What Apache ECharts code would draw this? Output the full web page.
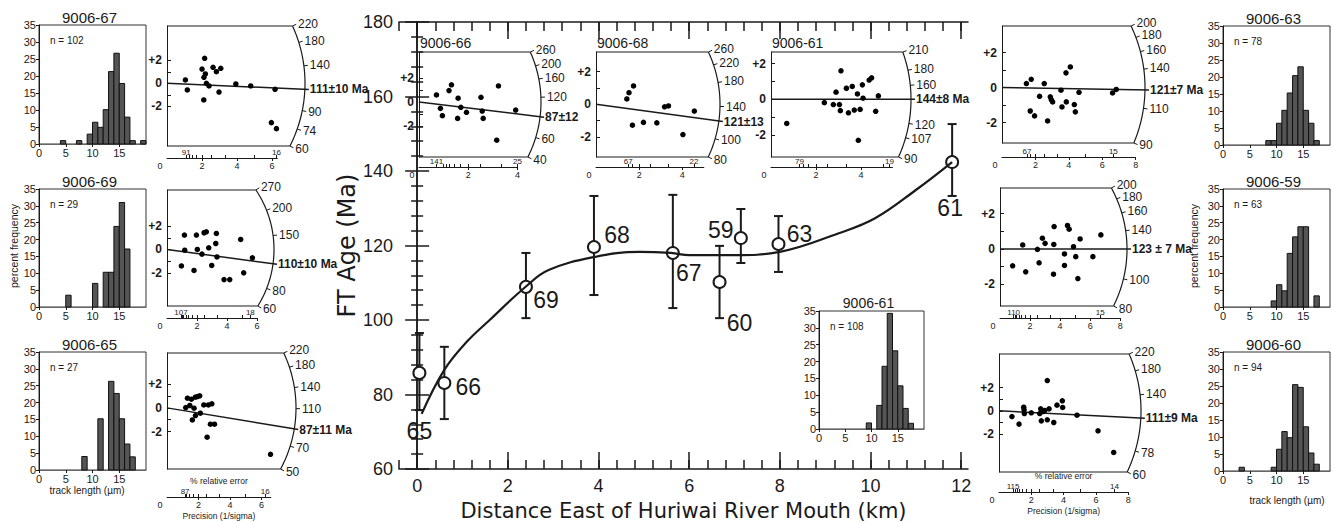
<!DOCTYPE html>
<html>
<head>
<meta charset="utf-8">
<title>FT ages east of Huriwai River mouth</title>
<script src="https://cdn.jsdelivr.net/npm/echarts@6/dist/echarts.min.js"></script>
<style>
  html, body { margin: 0; padding: 0; background: #fff; }
  #chart { width: 1332px; height: 523px; }
</style>
</head>
<body>
<div id="chart"></div>
<script>
// ---- main plot: FT age vs distance ----
const sampleIds = ['65', '66', '69', '68', '67', '60', '59', '63', '61'];
const distKm   = [0.05, 0.6, 2.4, 3.9, 5.64, 6.67, 7.14, 7.97, 11.8];
const ftAge    = [85.8, 83.1, 108.9, 119.6, 118, 110.2, 122, 120.4, 142.4];
const ageLow   = [75.8, 73.4, 100.5, 106.7, 103.2, 100.5, 115.3, 112.9, 133.3];
const ageHigh  = [96.5, 92.8, 118, 133.3, 133.6, 119.9, 129.8, 127.9, 152.6];
const trendKm  = [0.1, 0.6, 1.1, 1.6, 2.4, 2.9, 3.9, 4.9, 5.6, 6.0, 7.0, 8.0, 9.3, 10.1, 11.0, 11.8];
const trendAge = [74.8, 86.6, 94.2, 100, 109, 113.4, 116.9, 118.3, 118, 117.4, 117.4, 118.3, 123.3, 127.3, 134.9, 142.4];
const kmLabels = [0, 2, 4, 6, 8, 10, 12];

// ---- track length histograms: bin start (um) and percent ----
const h67Bins = [4, 7, 9, 10, 11, 12, 13, 14, 15, 16, 17, 19];
const h67Pct  = [1, 1, 2.9, 6.4, 4.9, 10.1, 21.3, 26.7, 17.8, 7.9, 1, 1];
const h69Bins = [5, 10, 12, 13, 14, 15, 16];
const h69Pct  = [3.5, 7, 10.3, 10.3, 23.9, 31, 17.2];
const h65Bins = [8, 11, 13, 14, 15, 16, 17];
const h65Pct  = [4, 15.2, 26.3, 22.7, 15.2, 7.7, 3.9];
const h63Bins = [8, 9, 10, 11, 12, 13, 14, 15, 16, 17];
const h63Pct  = [1.3, 1.3, 6.4, 10.2, 15.3, 20.4, 23, 10.2, 6.4, 1.3];
const h59Bins = [9, 10, 11, 12, 13, 14, 15, 17];
const h59Pct  = [1.8, 6.6, 4.8, 15.9, 20.8, 23.8, 23.8, 3.3];
const h60Bins = [3, 9, 10, 11, 12, 13, 14, 15, 16, 17];
const h60Pct  = [1.1, 1.1, 6.4, 11.6, 9.8, 25.4, 24.6, 13, 5.3, 2];
const h61Bins = [9, 11, 12, 13, 14, 15, 16, 17];
const h61Pct  = [1.8, 7, 18.6, 34.3, 23.2, 12.8, 6.1, 1.7];

// ---- radial plots: precision (1/sigma), standardised estimate ----
const r67Prec = [1.05, 1.16, 2.15, 2.0, 2.11, 2.19, 2.25, 2.4, 2.63, 2.82, 3.07, 2.97, 2.1, 3.93, 4.78, 6.17, 5.96, 6.25];
const r67Z    = [0.29, -0.58, 2.17, 1.24, 0.52, 0.81, 0, -0.23, 1.39, 1.01, 1.3, -0.76, -1.45, -0.06, -0.23, -0.52, -3.42, -3.94];
const r67Arc  = [220, 180, 140, 90, 74, 60];
const r69Prec = [1.16, 1.18, 1.96, 2.02, 2.33, 2.47, 2.62, 2.78, 3.29, 3.25, 3.33, 4.91, 5.69, 0.96, 1.8, 2.98, 3.8, 4.18, 5.11];
const r69Z    = [1.23, -0.06, 1.23, 0, -0.4, 1.43, 1.51, 0.14, 1.37, 0.51, -0.64, 0.86, -0.72, -1.41, -1.8, -1.37, -2.58, -2.58, -2.0];
const r69Arc  = [270, 200, 150, 80, 60];
const r65Prec = [1.3, 1.55, 1.8, 1.93, 2.08, 1.19, 1.45, 1.72, 1.81, 1.61, 2.12, 2.34, 2.63, 2.85, 2.76, 3.02, 2.55, 6.58];
const r65Z    = [0.82, 0.73, 0.9, 0.96, 1.02, 0.03, 0.2, -0.03, -0.65, -1.02, -0.45, 0.25, 0.25, 0.34, -1.38, -1.38, -2.48, -3.93];
const r65Arc  = [220, 180, 140, 110, 70, 50];
const r66Prec = [0.71, 0.87, 0.95, 1.22, 1.32, 1.59, 1.7, 1.57, 1.93, 2.52, 2.57, 2.61, 3.23, 3.16, 3.93];
const r66Z    = [0.58, -0.53, -1.14, 0.94, 1.42, 0.31, -0.44, -1.36, -0.86, 0.39, -0.75, -1.36, 1.33, -3.17, -0.67];
const r66Arc  = [260, 200, 160, 120, 60, 40];
const r68Prec = [1.43, 1.53, 1.74, 1.69, 2.2, 2.82, 3.18, 3.36, 4.03, 4.56];
const r68Z    = [0.33, 0.71, 1.12, -1.27, -1.1, -1.13, -0.15, -0.1, -1.84, -0.41];
const r68Arc  = [260, 220, 180, 140, 100, 80];
const r61Prec = [0.7, 2.37, 2.77, 2.89, 3.04, 3.08, 3.11, 3.35, 3.44, 3.61, 3.7, 3.84, 3.96, 3.88, 4.06, 4.09, 4.36, 4.47, 4.65, 4.77];
const r61Z    = [-1.36, -0.19, -0.3, 0.4, -0.3, -0.64, 1.6, 0.62, -0.76, 0.72, -0.61, 0.3, -0.57, -2.31, 0.81, 0.06, 1.08, 1.21, -0.68, 0.19];
const r61Arc  = [210, 180, 160, 120, 107, 90];
const r63Prec = [1.46, 1.75, 1.69, 1.95, 2.25, 2.53, 2.73, 2.89, 2.95, 3.03, 3.53, 3.59, 3.83, 4.09, 3.85, 4.33, 4.39, 4.61, 6.62, 6.84];
const r63Z    = [0.23, 0.47, -1.34, -1.62, -0.5, 0.23, -1.91, -0.53, -0.69, -0.82, -0.15, -1.11, 0.84, 1.18, -0.82, -0.97, -1.39, -0.27, -0.31, -0.11];
const r63Arc  = [200, 180, 160, 140, 110, 90];
const r59Prec = [1.51, 2.49, 2.82, 3.0, 3.6, 3.58, 4.49, 4.6, 4.89, 5.33, 6.71, 4.29, 5.04, 6.18, 0.84, 1.71, 2.6, 3.56, 4.29, 5.18];
const r59Z    = [0.23, -0.02, 0.61, 0.32, 1.27, 0.26, 1.33, 1.12, 0.13, 0.57, 0.8, -0.28, -0.43, -0.43, -0.95, -1.29, -0.78, -1.42, -0.93, -1.67];
const r59Arc  = [200, 180, 160, 140, 100, 80];
const r60Prec = [0.8, 1.24, 1.53, 1.55, 1.57, 2.0, 2.52, 2.58, 2.62, 2.73, 2.83, 2.99, 2.99, 3.1, 3.39, 3.59, 3.92, 3.94, 4.83, 6.13, 7.1];
const r60Z    = [-0.49, -1.14, 0.31, 0.09, -0.23, -0.17, -0.23, 0.17, -0.86, -0.06, 0.03, 2.6, -0.77, 0.17, -1.0, 0.49, 0.86, 0.29, -0.37, -1.71, -3.57];
const r60Arc  = [220, 180, 140, 78, 60];
// [precision at arc, z top, z bottom], reference age (horizontal ray), central age, precision axis end, % rel. error ends
const r67Range = [7.88, 4.98, -5.45]; const r67Ref = 117.5; const r67Central = 111;   const r67PrecMax = 6.3; const r67Rel = [91, 16];
const r69Range = [7.13, 5.09, -4.84]; const r69Ref = 130;   const r69Central = 110;   const r69PrecMax = 6;   const r69Rel = [107, 18];
const r65Range = [8.2, 4.64, -5.17];  const r65Ref = 111;   const r65Central = 87;    const r65PrecMax = 6.6; const r65Rel = [87, 16];
const r66Range = [4.96, 4.14, -4.56]; const r66Ref = 111.5; const r66Central = 87;    const r66PrecMax = 4;   const r66Rel = [141, 25];
const r68Range = [5.75, 3.19, -3.21]; const r68Ref = 143;   const r68Central = 121;   const r68PrecMax = 5;   const r68Rel = [67, 22];
const r61Range = [6.22, 2.66, -3.25]; const r61Ref = 144;   const r61Central = 144;   const r61PrecMax = 5.4; const r61Rel = [79, 19];
const r63Range = [8.56, 3.52, -3.17]; const r63Ref = 122.5; const r63Central = 121;   const r63PrecMax = 8;   const r63Rel = [67, 15];
const r59Range = [8.45, 3.45, -3.22]; const r59Ref = 123;   const r59Central = 123;   const r59PrecMax = 8;   const r59Rel = [110, 15];
const r60Range = [8.79, 4.88, -5.25]; const r60Ref = 119.4; const r60Central = 111;   const r60PrecMax = 8;   const r60Rel = [115, 14];

const INK = '#1a1a1a';
const FONT = "'Liberation Sans', Arial, sans-serif";
const NARROW = "'Liberation Sans Narrow', 'Arial Narrow', 'Liberation Sans', sans-serif";
const WIDE = "'DejaVu Sans', sans-serif";

const grids = [], xAxes = [], yAxes = [], series = [], graphics = [];
function addGrid(g) { grids.push(Object.assign({ show: false, outerBoundsMode: 'none', containLabel: false }, g)); return grids.length - 1; }
function addX(a) { xAxes.push(Object.assign({ type: 'value', splitLine: { show: false } }, a)); return xAxes.length - 1; }
function addY(a) { yAxes.push(Object.assign({ type: 'value', splitLine: { show: false } }, a)); return yAxes.length - 1; }
function addText(x, y, text, size, extra) {
  graphics.push(Object.assign({ type: 'text', x: x, y: y, silent: true,
    style: Object.assign({ text: text, fill: INK, fontFamily: FONT, fontSize: size, align: 'center', verticalAlign: 'middle' }, (extra && extra.style) || {}) },
    extra && extra.rotation ? { rotation: extra.rotation } : {}));
}

// ---------- main plot ----------
const gMain = addGrid({ left: 399, top: 22, width: 569, height: 447 });
const kmMinor = [];
for (let k = -1; k <= 30; k++) kmMinor.push(+(k * 0.4).toFixed(1));
const mainTick = { color: INK, width: 1.5 };
addX({ gridIndex: gMain, min: -0.4, max: 12.15, position: 'bottom',
  name: 'Distance East of Huriwai River Mouth (km)', nameLocation: 'middle', nameGap: 30,
  nameTextStyle: { fontFamily: WIDE, fontSize: 21, color: INK, lineHeight: 22 },
  axisLine: { onZero: false, lineStyle: mainTick },
  axisTick: { inside: true, length: 17, customValues: kmLabels, lineStyle: mainTick },
  axisLabel: { customValues: kmLabels, fontFamily: NARROW, fontSize: 18, color: INK, margin: 8 } });
addX({ gridIndex: gMain, min: -0.4, max: 12.15, position: 'bottom', axisLine: { show: false },
  axisTick: { inside: true, length: 9, customValues: kmMinor, lineStyle: mainTick }, axisLabel: { show: false } });
addX({ gridIndex: gMain, min: -0.4, max: 12.15, position: 'top', axisLine: { onZero: false, lineStyle: mainTick },
  axisTick: { inside: true, length: 17, customValues: kmLabels, lineStyle: mainTick }, axisLabel: { show: false } });
addX({ gridIndex: gMain, min: -0.4, max: 12.15, position: 'top', axisLine: { show: false },
  axisTick: { inside: true, length: 9, customValues: kmMinor, lineStyle: mainTick }, axisLabel: { show: false } });
addY({ gridIndex: gMain, min: 60, max: 180, interval: 20, position: 'left',
  name: 'FT Age (Ma)', nameLocation: 'middle', nameGap: 30,
  nameTextStyle: { fontFamily: WIDE, fontSize: 24, color: INK },
  axisLine: { show: true, lineStyle: mainTick },
  axisTick: { inside: true, length: 12, lineStyle: mainTick },
  minorTick: { show: true, splitNumber: 5, length: 6, lineStyle: mainTick },
  axisLabel: { fontFamily: NARROW, fontSize: 18, color: INK, margin: 6 } });
addY({ gridIndex: gMain, min: 60, max: 180, interval: 20, position: 'right',
  axisLine: { show: true, lineStyle: mainTick },
  axisTick: { inside: true, length: 12, lineStyle: mainTick },
  minorTick: { show: true, splitNumber: 5, length: 6, lineStyle: mainTick },
  axisLabel: { show: false } });

const idLabelOffset = { '65': [0, 58], '66': [24, 4], '69': [20, 13], '68': [23, -12], '67': [16, 20],
  '60': [20, 41], '59': [-20, -8], '63': [21, -10], '61': [-2, 46] };

series.push({ type: 'custom', xAxisIndex: 0, yAxisIndex: 0, z: 2, silent: true,
  data: distKm.map((d, i) => [d, ageLow[i], ageHigh[i]]),
  renderItem: function (params, api) {
    const lo = api.coord([api.value(0), api.value(1)]);
    const hi = api.coord([api.value(0), api.value(2)]);
    const st = { stroke: INK, lineWidth: 2 };
    return { type: 'group', children: [
      { type: 'line', shape: { x1: lo[0], y1: lo[1], x2: hi[0], y2: hi[1] }, style: st },
      { type: 'line', shape: { x1: lo[0] - 4.5, y1: lo[1], x2: lo[0] + 4.5, y2: lo[1] }, style: st },
      { type: 'line', shape: { x1: hi[0] - 4.5, y1: hi[1], x2: hi[0] + 4.5, y2: hi[1] }, style: st }
    ] };
  } });
series.push({ type: 'scatter', xAxisIndex: 0, yAxisIndex: 0, z: 3, symbol: 'circle', symbolSize: 12, silent: true,
  itemStyle: { color: '#fff', borderColor: INK, borderWidth: 2, opacity: 1 },
  data: distKm.map((d, i) => ({ value: [d, ftAge[i]],
    label: { show: true, formatter: sampleIds[i], position: 'inside', offset: idLabelOffset[sampleIds[i]],
      fontFamily: NARROW, fontSize: 23, color: INK, opacity: 1 } })) });
series.push({ type: 'line', xAxisIndex: 0, yAxisIndex: 0, z: 4, smooth: 0.4, showSymbol: false, silent: true,
  lineStyle: { color: INK, width: 2.2 }, data: trendKm.map((d, i) => [d, trendAge[i]]) });

// ---------- histograms ----------
function addHistogram(box, bins, pct, title, nText) {
  const gi = addGrid({ left: box.left, top: box.top, width: box.width, height: box.bottom - box.top,
    show: true, borderColor: '#333', borderWidth: 1 });
  const xi = addX({ gridIndex: gi, min: 0, max: 20, interval: 5,
    axisLine: { onZero: false, lineStyle: { color: '#666' } }, axisTick: { length: 3, lineStyle: { color: INK } },
    axisLabel: { fontFamily: FONT, fontSize: 11, color: INK, margin: 3, showMaxLabel: false } });
  const yi = addY({ gridIndex: gi, min: 0, max: 35, interval: 5,
    axisLine: { show: true, lineStyle: { color: INK } }, axisTick: { show: true, length: 3, lineStyle: { color: INK } },
    axisLabel: { fontFamily: FONT, fontSize: 11, color: INK, margin: 3 } });
  series.push({ type: 'custom', xAxisIndex: xi, yAxisIndex: yi, silent: true,
    data: bins.map((b, i) => [b, pct[i]]),
    renderItem: function (params, api) {
      const p0 = api.coord([api.value(0), api.value(1)]);
      const p1 = api.coord([api.value(0) + 1, 0]);
      return { type: 'rect', shape: { x: p0[0], y: p0[1], width: p1[0] - p0[0], height: p1[1] - p0[1] },
        style: { fill: '#555', stroke: '#111', lineWidth: 1 } };
    } });
  addText(box.left + box.width / 2 - 3, box.top - 8, title, box.titleSize || 15);
  addText(box.left + 11, box.top + 15, nText, 10, { style: { align: 'left' } });
}

addHistogram({ left: 39, top: 25, bottom: 144, width: 107 }, h67Bins, h67Pct, '9006-67', 'n = 102');
addHistogram({ left: 39, top: 189, bottom: 307, width: 107 }, h69Bins, h69Pct, '9006-69', 'n = 29');
addHistogram({ left: 39, top: 352, bottom: 470, width: 107 }, h65Bins, h65Pct, '9006-65', 'n = 27');
addHistogram({ left: 1223, top: 26, bottom: 145, width: 107 }, h63Bins, h63Pct, '9006-63', 'n = 78');
addHistogram({ left: 1223, top: 189, bottom: 307, width: 107 }, h59Bins, h59Pct, '9006-59', 'n = 63');
addHistogram({ left: 1223, top: 352, bottom: 471, width: 107 }, h60Bins, h60Pct, '9006-60', 'n = 94');
addHistogram({ left: 819, top: 311, bottom: 429, width: 105, titleSize: 14 }, h61Bins, h61Pct, '9006-61', 'n = 108');

addText(14, 246, 'percent frequency', 10.5, { rotation: Math.PI / 2 });
addText(1194, 246, 'percent frequency', 10.5, { rotation: Math.PI / 2 });
addText(87, 490, 'track length (\u00b5m)', 10);
addText(1287, 500, 'track length (\u00b5m)', 10);

// ---------- radial plots ----------
function addRadial(box, prec, z, range, refAge, arcAges, centralAge, centralText, precMax, relErr, withNames) {
  const xR = range[0], zTop = range[1], zBot = range[2];
  const gi = addGrid({ left: box.left, top: box.top, width: box.r, height: box.bottom - box.top });
  const xi = addX({ gridIndex: gi, min: 0, max: xR, show: false });
  const yi = addY({ gridIndex: gi, min: zBot, max: zTop, position: 'left',
    axisLine: { show: true, onZero: false, lineStyle: { color: INK, width: 1 } },
    axisTick: { show: true, inside: true, length: 4, customValues: [-2, -1, 0, 1, 2], lineStyle: { color: INK } },
    axisLabel: { customValues: [-2, 0, 2], formatter: v => (v > 0 ? '+' : '') + v,
      fontFamily: FONT, fontWeight: 'bold', fontSize: 12, color: INK, margin: 5 } });
  series.push({ type: 'scatter', xAxisIndex: xi, yAxisIndex: yi, z: 4, silent: true, symbolSize: 5.5,
    itemStyle: { color: '#000', opacity: 1 }, data: prec.map((p, i) => [p, z[i]]) });
  series.push({ type: 'custom', xAxisIndex: xi, yAxisIndex: yi, z: 3, clip: false, silent: true, data: [[0, 0]],
    renderItem: function (params, api) {
      const o = api.coord([0, 0]);
      const r = api.coord([xR, 0])[0] - o[0];
      const dyT = o[1] - api.coord([0, zTop])[1];
      const dyB = api.coord([0, zBot])[1] - o[1];
      const angT = Math.asin(dyT / r), angB = -Math.asin(dyB / r);
      const tTop = arcAges[0], tBot = arcAges[arcAges.length - 1];
      const angOf = t => Math.atan(t >= refAge
        ? Math.tan(angT) * Math.log(t / refAge) / Math.log(tTop / refAge)
        : Math.tan(angB) * Math.log(t / refAge) / Math.log(tBot / refAge));
      const at = (a, d) => [o[0] + d * Math.cos(a), o[1] - d * Math.sin(a)];
      const kids = [];
      const seg = (p, q, w) => kids.push({ type: 'line', shape: { x1: p[0], y1: p[1], x2: q[0], y2: q[1] },
        style: { stroke: INK, lineWidth: w || 1 } });
      const label = (p, text, bold) => kids.push({ type: 'text', x: p[0], y: p[1],
        style: { text: text, fill: INK, fontFamily: FONT, fontSize: 12, fontWeight: bold ? 'bold' : 'normal',
          align: 'left', verticalAlign: 'middle' } });
      seg([o[0], o[1] - dyT], at(angT, r));
      seg([o[0], o[1] + dyB], at(angB, r));
      const pts = [];
      for (let k = 0; k <= 60; k++) pts.push(at(angB + (angT - angB) * k / 60, r));
      kids.push({ type: 'polyline', shape: { points: pts }, style: { stroke: INK, lineWidth: 1.2, fill: 'none' } });
      arcAges.forEach(t => {
        const a = angOf(t);
        seg(at(a, r), at(a, r + 4));
        label(at(a, r + 6), String(t), false);
      });
      const ac = angOf(centralAge);
      seg(o, at(ac, r + 4), 1.5);
      label(at(ac, r + 5), centralText, true);
      return { type: 'group', children: kids };
    } });

  // precision scale under the frame, % relative error on top of it
  const pxPerPrec = box.r / xR;
  const gp = addGrid({ left: box.left, top: box.precY - 1, width: precMax * pxPerPrec, height: 1 });
  const evenPrec = [0, 2, 4, 6, 8].filter(v => v <= precMax + 1e-6);
  const relMarks = [100, 90, 80, 70, 60, 50, 40, 30, 20].concat(relErr).map(e => 100 / e)
    .filter(v => v >= 100 / relErr[0] - 1e-6 && v <= 100 / relErr[1] + 1e-6);
  addX({ gridIndex: gp, min: 0, max: precMax, position: 'bottom',
    axisLine: { show: true, onZero: false, lineStyle: { color: INK } },
    axisTick: { show: true, length: 3, customValues: evenPrec.slice(1), lineStyle: { color: INK } },
    axisLabel: { customValues: evenPrec, fontFamily: FONT, fontSize: 9, color: INK, margin: 3,
      formatter: v => (v === 0 ? '{o|0}' : String(v)),
      rich: { o: { fontFamily: FONT, fontSize: 9, color: INK, padding: [0, 14, 0, 0] } } },
    name: withNames ? 'Precision (1/sigma)' : '', nameLocation: 'middle', nameGap: 14,
    nameTextStyle: { fontFamily: FONT, fontSize: 8.5, color: INK } });
  addX({ gridIndex: gp, min: 0, max: precMax, position: 'top', axisLine: { show: false },
    axisTick: { show: true, length: 3, customValues: relMarks, lineStyle: { color: INK } },
    axisLabel: { customValues: relErr.map(e => 100 / e), formatter: v => String(Math.round(100 / v)),
      fontFamily: FONT, fontSize: 8, color: INK, margin: 1 },
    name: withNames ? '% relative error' : '', nameLocation: 'middle', nameGap: 11,
    nameTextStyle: { fontFamily: FONT, fontSize: 8.5, color: INK } });
  addY({ gridIndex: gp, show: false, min: 0, max: 1 });
  if (box.title) addText(box.left + 1, box.top - 9, box.title, 14, { style: { align: 'left' } });
}

addRadial({ left: 167, top: 26, bottom: 146, r: 138, precY: 158 }, r67Prec, r67Z, r67Range, r67Ref, r67Arc, r67Central, '111\u00b110 Ma', r67PrecMax, r67Rel);
addRadial({ left: 167, top: 190, bottom: 306, r: 107, precY: 318 }, r69Prec, r69Z, r69Range, r69Ref, r69Arc, r69Central, '110\u00b110 Ma', r69PrecMax, r69Rel);
addRadial({ left: 167, top: 353, bottom: 469, r: 129, precY: 497 }, r65Prec, r65Z, r65Range, r65Ref, r65Arc, r65Central, '87\u00b111 Ma', r65PrecMax, r65Rel, true);
addRadial({ left: 419, top: 52, bottom: 157, r: 122, precY: 167, title: '9006-66' }, r66Prec, r66Z, r66Range, r66Ref, r66Arc, r66Central, '87\u00b112', r66PrecMax, r66Rel);
addRadial({ left: 596, top: 52, bottom: 157, r: 124, precY: 167, title: '9006-68' }, r68Prec, r68Z, r68Range, r68Ref, r68Arc, r68Central, '121\u00b113', r68PrecMax, r68Rel);
addRadial({ left: 771, top: 52, bottom: 157, r: 140, precY: 167, title: '9006-61' }, r61Prec, r61Z, r61Range, r61Ref, r61Arc, r61Central, '144\u00b18 Ma', r61PrecMax, r61Rel);
addRadial({ left: 1002, top: 26, bottom: 143, r: 143, precY: 157 }, r63Prec, r63Z, r63Range, r63Ref, r63Arc, r63Central, '121\u00b17 Ma', r63PrecMax, r63Rel);
addRadial({ left: 1000, top: 188, bottom: 306, r: 127, precY: 318 }, r59Prec, r59Z, r59Range, r59Ref, r59Arc, r59Central, '123 \u00b1 7 Ma', r59PrecMax, r59Rel);
addRadial({ left: 999, top: 354, bottom: 472, r: 142, precY: 492 }, r60Prec, r60Z, r60Range, r60Ref, r60Arc, r60Central, '111\u00b19 Ma', r60PrecMax, r60Rel, true);

const chart = echarts.init(document.getElementById('chart'), null, { renderer: 'svg' });
chart.setOption({
  animation: false,
  backgroundColor: '#fff',
  grid: grids,
  xAxis: xAxes,
  yAxis: yAxes,
  series: series,
  graphic: graphics
});
</script>
</body>
</html>
